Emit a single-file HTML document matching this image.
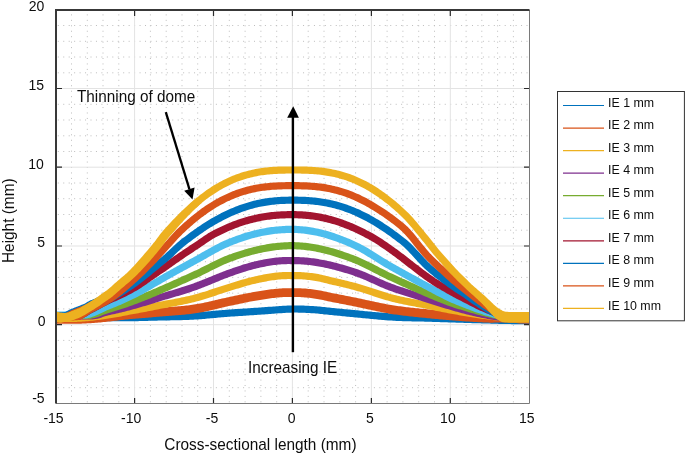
<!DOCTYPE html><html><head><meta charset="utf-8"><style>html,body{margin:0;padding:0;background:#fff;}svg{display:block;will-change:transform;}text{font-family:"Liberation Sans",sans-serif;fill:#0d0d0d;}</style></head><body>
<svg width="685" height="455" viewBox="0 0 685 455">
<rect width="685" height="455" fill="#fff"/>
<path d="M71.5,14.4 V403 M87.3,14.4 V403 M103.0,14.4 V403 M118.8,14.4 V403 M150.4,14.4 V403 M166.2,14.4 V403 M182.0,14.4 V403 M197.7,14.4 V403 M229.3,14.4 V403 M245.1,14.4 V403 M260.9,14.4 V403 M276.7,14.4 V403 M308.2,14.4 V403 M324.0,14.4 V403 M339.8,14.4 V403 M355.6,14.4 V403 M387.1,14.4 V403 M402.9,14.4 V403 M418.7,14.4 V403 M434.5,14.4 V403 M466.1,14.4 V403 M481.8,14.4 V403 M497.6,14.4 V403 M513.4,14.4 V403 M57.8,387.7 H529 M57.8,371.9 H529 M57.8,356.2 H529 M57.8,340.4 H529 M57.8,308.9 H529 M57.8,293.2 H529 M57.8,277.4 H529 M57.8,261.7 H529 M57.8,230.2 H529 M57.8,214.5 H529 M57.8,198.7 H529 M57.8,183.0 H529 M57.8,151.5 H529 M57.8,135.8 H529 M57.8,120.0 H529 M57.8,104.3 H529 M57.8,72.8 H529 M57.8,57.0 H529 M57.8,41.3 H529 M57.8,25.5 H529" stroke="#bdbdbd" stroke-width="1" stroke-dasharray="1 4.45" fill="none"/>
<path d="M134.6,11 V403 M213.5,11 V403 M292.4,11 V403 M371.4,11 V403 M450.3,11 V403 M57,88.5 H529 M57,167.2 H529 M57,246.0 H529 M57,324.7 H529" stroke="#e3e3e3" stroke-width="1" fill="none"/>
<defs><clipPath id="ax"><rect x="56" y="10" width="473.5" height="393.5"/></clipPath></defs>
<g clip-path="url(#ax)" fill="none" stroke-linejoin="round">
<path d="M49.39,318.00 L50.97,318.00 L52.54,318.00 L54.12,318.00 L55.70,318.00 L57.28,318.00 L58.86,318.00 L60.43,318.00 L62.01,318.00 L63.59,318.00 L65.17,318.00 L66.75,318.00 L68.33,318.00 L69.90,318.00 L71.48,318.00 L73.06,318.00 L74.64,318.00 L76.22,318.00 L77.80,318.00 L79.37,317.99 L80.95,317.98 L82.53,317.97 L84.11,317.95 L85.69,317.93 L87.27,317.91 L88.84,317.89 L90.42,317.86 L92.00,317.83 L93.58,317.80 L95.16,317.77 L96.74,317.73 L98.31,317.70 L99.89,317.66 L101.47,317.67 L103.05,317.68 L104.63,317.69 L106.21,317.70 L107.78,317.70 L109.36,317.70 L110.94,317.69 L112.52,317.68 L114.10,317.66 L115.68,317.65 L117.25,317.64 L118.83,317.62 L120.41,317.61 L121.99,317.61 L123.57,317.62 L125.15,317.63 L126.72,317.66 L128.30,317.69 L129.88,317.73 L131.46,317.70 L133.04,317.66 L134.62,317.62 L136.19,317.58 L137.77,317.54 L139.35,317.50 L140.93,317.46 L142.51,317.42 L144.08,317.38 L145.66,317.34 L147.24,317.30 L148.82,317.26 L150.40,317.22 L151.98,317.18 L153.55,317.14 L155.13,317.09 L156.71,317.05 L158.29,317.01 L159.87,316.97 L161.45,316.94 L163.02,316.90 L164.60,316.87 L166.18,316.85 L167.76,316.82 L169.34,316.79 L170.92,316.76 L172.49,316.73 L174.07,316.71 L175.65,316.67 L177.23,316.64 L178.81,316.61 L180.39,316.57 L181.96,316.52 L183.54,316.48 L185.12,316.43 L186.70,316.37 L188.28,316.31 L189.86,316.24 L191.43,316.17 L193.01,316.09 L194.59,316.00 L196.17,315.90 L197.75,315.79 L199.33,315.68 L200.90,315.56 L202.48,315.43 L204.06,315.30 L205.64,315.17 L207.22,315.03 L208.80,314.88 L210.37,314.74 L211.95,314.59 L213.53,314.44 L215.11,314.30 L216.69,314.15 L218.26,314.01 L219.84,313.87 L221.42,313.73 L223.00,313.60 L224.58,313.47 L226.16,313.35 L227.73,313.23 L229.31,313.13 L230.89,313.02 L232.47,312.92 L234.05,312.81 L235.63,312.71 L237.20,312.61 L238.78,312.50 L240.36,312.40 L241.94,312.29 L243.52,312.19 L245.10,312.08 L246.67,311.98 L248.25,311.88 L249.83,311.77 L251.41,311.67 L252.99,311.57 L254.57,311.46 L256.14,311.36 L257.72,311.25 L259.30,311.15 L260.88,311.03 L262.46,310.92 L264.04,310.81 L265.61,310.69 L267.19,310.57 L268.77,310.46 L270.35,310.34 L271.93,310.22 L273.51,310.11 L275.08,309.99 L276.66,309.88 L278.24,309.77 L279.82,309.66 L281.40,309.56 L282.98,309.46 L284.55,309.37 L286.13,309.28 L287.71,309.20 L289.29,309.12 L290.87,309.05 L292.45,308.98 L294.02,308.98 L295.60,308.98 L297.18,309.00 L298.76,309.03 L300.34,309.07 L301.91,309.11 L303.49,309.17 L305.07,309.23 L306.65,309.30 L308.23,309.38 L309.81,309.47 L311.38,309.56 L312.96,309.66 L314.54,309.77 L316.12,309.88 L317.70,310.00 L319.28,310.14 L320.85,310.30 L322.43,310.47 L324.01,310.64 L325.59,310.82 L327.17,311.00 L328.75,311.18 L330.32,311.35 L331.90,311.52 L333.48,311.67 L335.06,311.83 L336.64,311.98 L338.22,312.14 L339.79,312.29 L341.37,312.44 L342.95,312.59 L344.53,312.75 L346.11,312.90 L347.69,313.05 L349.26,313.20 L350.84,313.35 L352.42,313.50 L354.00,313.65 L355.58,313.80 L357.16,313.95 L358.73,314.10 L360.31,314.25 L361.89,314.40 L363.47,314.56 L365.05,314.71 L366.63,314.86 L368.20,315.01 L369.78,315.17 L371.36,315.32 L372.94,315.47 L374.52,315.61 L376.09,315.76 L377.67,315.90 L379.25,316.04 L380.83,316.18 L382.41,316.31 L383.99,316.44 L385.56,316.57 L387.14,316.69 L388.72,316.81 L390.30,316.92 L391.88,317.03 L393.46,317.12 L395.03,317.21 L396.61,317.29 L398.19,317.36 L399.77,317.43 L401.35,317.49 L402.93,317.54 L404.50,317.59 L406.08,317.63 L407.66,317.67 L409.24,317.71 L410.82,317.74 L412.40,317.78 L413.97,317.81 L415.55,317.84 L417.13,317.87 L418.71,317.90 L420.29,317.94 L421.87,317.97 L423.44,318.01 L425.02,318.05 L426.60,318.10 L428.18,318.15 L429.76,318.20 L431.34,318.26 L432.91,318.31 L434.49,318.37 L436.07,318.42 L437.65,318.47 L439.23,318.52 L440.81,318.57 L442.38,318.62 L443.96,318.67 L445.54,318.72 L447.12,318.77 L448.70,318.81 L450.28,318.86 L451.85,318.91 L453.43,318.95 L455.01,319.00 L456.59,319.04 L458.17,319.09 L459.74,319.14 L461.32,319.19 L462.90,319.24 L464.48,319.28 L466.06,319.33 L467.64,319.38 L469.21,319.44 L470.79,319.49 L472.37,319.54 L473.95,319.59 L475.53,319.63 L477.11,319.68 L478.68,319.72 L480.26,319.77 L481.84,319.81 L483.42,319.85 L485.00,319.89 L486.58,319.92 L488.15,319.96 L489.73,319.99 L491.31,320.03 L492.89,320.08 L494.47,320.13 L496.05,320.19 L497.62,320.24 L499.20,320.30 L500.78,320.35 L502.36,320.40 L503.94,320.43 L505.52,320.46 L507.09,320.48 L508.67,320.50 L510.25,320.51 L511.83,320.53 L513.41,320.54 L514.99,320.56 L516.56,320.57 L518.14,320.58 L519.72,320.59 L521.30,320.60 L522.88,320.60 L524.46,320.61 L526.03,320.62 L527.61,320.62 L529.19,320.63 L530.77,320.63 L532.35,320.63 L533.92,320.62" stroke="#0072BD" stroke-width="7.2"/>
<path d="M49.39,319.30 L50.97,319.30 L52.54,319.30 L54.12,319.30 L55.70,319.30 L57.28,319.30 L58.86,319.30 L60.43,319.30 L62.01,319.30 L63.59,319.30 L65.17,319.30 L66.75,319.30 L68.33,319.30 L69.90,319.30 L71.48,319.30 L73.06,319.30 L74.64,319.30 L76.22,319.30 L77.80,319.29 L79.37,319.27 L80.95,319.23 L82.53,319.18 L84.11,319.11 L85.69,319.04 L87.27,318.96 L88.84,318.87 L90.42,318.77 L92.00,318.66 L93.58,318.55 L95.16,318.44 L96.74,318.32 L98.31,318.20 L99.89,318.07 L101.47,317.90 L103.05,317.72 L104.63,317.55 L106.21,317.38 L107.78,317.20 L109.36,317.03 L110.94,316.84 L112.52,316.66 L114.10,316.47 L115.68,316.28 L117.25,316.09 L118.83,315.90 L120.41,315.72 L121.99,315.53 L123.57,315.36 L125.15,315.19 L126.72,315.03 L128.30,314.87 L129.88,314.72 L131.46,314.60 L133.04,314.47 L134.62,314.34 L136.19,314.21 L137.77,314.08 L139.35,313.95 L140.93,313.82 L142.51,313.69 L144.08,313.55 L145.66,313.42 L147.24,313.28 L148.82,313.14 L150.40,313.00 L151.98,312.86 L153.55,312.72 L155.13,312.57 L156.71,312.43 L158.29,312.29 L159.87,312.16 L161.45,312.03 L163.02,311.91 L164.60,311.79 L166.18,311.67 L167.76,311.55 L169.34,311.44 L170.92,311.32 L172.49,311.20 L174.07,311.08 L175.65,310.96 L177.23,310.83 L178.81,310.70 L180.39,310.57 L181.96,310.42 L183.54,310.27 L185.12,310.12 L186.70,309.95 L188.28,309.77 L189.86,309.59 L191.43,309.39 L193.01,309.18 L194.59,308.96 L196.17,308.72 L197.75,308.46 L199.33,308.18 L200.90,307.89 L202.48,307.58 L204.06,307.26 L205.64,306.92 L207.22,306.58 L208.80,306.23 L210.37,305.87 L211.95,305.50 L213.53,305.13 L215.11,304.75 L216.69,304.38 L218.26,304.00 L219.84,303.63 L221.42,303.26 L223.00,302.89 L224.58,302.53 L226.16,302.18 L227.73,301.83 L229.31,301.50 L230.89,301.17 L232.47,300.84 L234.05,300.50 L235.63,300.17 L237.20,299.83 L238.78,299.50 L240.36,299.16 L241.94,298.83 L243.52,298.50 L245.10,298.18 L246.67,297.86 L248.25,297.55 L249.83,297.25 L251.41,296.95 L252.99,296.66 L254.57,296.39 L256.14,296.12 L257.72,295.86 L259.30,295.60 L260.88,295.34 L262.46,295.09 L264.04,294.84 L265.61,294.60 L267.19,294.37 L268.77,294.15 L270.35,293.93 L271.93,293.73 L273.51,293.54 L275.08,293.36 L276.66,293.20 L278.24,293.05 L279.82,292.91 L281.40,292.80 L282.98,292.70 L284.55,292.63 L286.13,292.57 L287.71,292.54 L289.29,292.53 L290.87,292.54 L292.45,292.58 L294.02,292.56 L295.60,292.56 L297.18,292.58 L298.76,292.62 L300.34,292.68 L301.91,292.77 L303.49,292.87 L305.07,292.99 L306.65,293.14 L308.23,293.29 L309.81,293.47 L311.38,293.65 L312.96,293.85 L314.54,294.07 L316.12,294.29 L317.70,294.54 L319.28,294.82 L320.85,295.13 L322.43,295.45 L324.01,295.80 L325.59,296.14 L327.17,296.49 L328.75,296.84 L330.32,297.18 L331.90,297.50 L333.48,297.81 L335.06,298.12 L336.64,298.43 L338.22,298.74 L339.79,299.04 L341.37,299.35 L342.95,299.66 L344.53,299.97 L346.11,300.27 L347.69,300.58 L349.26,300.89 L350.84,301.21 L352.42,301.52 L354.00,301.84 L355.58,302.16 L357.16,302.49 L358.73,302.82 L360.31,303.15 L361.89,303.49 L363.47,303.83 L365.05,304.18 L366.63,304.52 L368.20,304.87 L369.78,305.21 L371.36,305.55 L372.94,305.89 L374.52,306.23 L376.09,306.57 L377.67,306.90 L379.25,307.22 L380.83,307.54 L382.41,307.86 L383.99,308.16 L385.56,308.46 L387.14,308.75 L388.72,309.03 L390.30,309.30 L391.88,309.55 L393.46,309.80 L395.03,310.04 L396.61,310.27 L398.19,310.49 L399.77,310.71 L401.35,310.92 L402.93,311.12 L404.50,311.31 L406.08,311.50 L407.66,311.68 L409.24,311.86 L410.82,312.03 L412.40,312.20 L413.97,312.37 L415.55,312.53 L417.13,312.69 L418.71,312.85 L420.29,313.01 L421.87,313.17 L423.44,313.32 L425.02,313.48 L426.60,313.64 L428.18,313.80 L429.76,313.96 L431.34,314.12 L432.91,314.28 L434.49,314.43 L436.07,314.59 L437.65,314.74 L439.23,314.89 L440.81,315.03 L442.38,315.18 L443.96,315.32 L445.54,315.46 L447.12,315.59 L448.70,315.73 L450.28,315.86 L451.85,315.98 L453.43,316.11 L455.01,316.23 L456.59,316.35 L458.17,316.47 L459.74,316.59 L461.32,316.70 L462.90,316.81 L464.48,316.91 L466.06,317.02 L467.64,317.12 L469.21,317.22 L470.79,317.31 L472.37,317.41 L473.95,317.51 L475.53,317.60 L477.11,317.69 L478.68,317.78 L480.26,317.86 L481.84,317.94 L483.42,318.02 L485.00,318.08 L486.58,318.15 L488.15,318.20 L489.73,318.24 L491.31,318.27 L492.89,318.26 L494.47,318.22 L496.05,318.18 L497.62,318.12 L499.20,318.07 L500.78,318.03 L502.36,318.01 L503.94,318.02 L505.52,318.07 L507.09,318.13 L508.67,318.19 L510.25,318.25 L511.83,318.31 L513.41,318.36 L514.99,318.41 L516.56,318.46 L518.14,318.51 L519.72,318.55 L521.30,318.59 L522.88,318.63 L524.46,318.66 L526.03,318.69 L527.61,318.72 L529.19,318.75 L530.77,318.78 L532.35,318.81 L533.92,318.85" stroke="#D95319" stroke-width="8.8"/>
<path d="M49.39,318.50 L50.97,318.50 L52.54,318.50 L54.12,318.50 L55.70,318.50 L57.28,318.50 L58.86,318.49 L60.43,318.49 L62.01,318.48 L63.59,318.47 L65.17,318.45 L66.75,318.43 L68.33,318.42 L69.90,318.40 L71.48,318.37 L73.06,318.35 L74.64,318.32 L76.22,318.30 L77.80,318.25 L79.37,318.19 L80.95,318.11 L82.53,318.01 L84.11,317.89 L85.69,317.76 L87.27,317.61 L88.84,317.45 L90.42,317.28 L92.00,317.11 L93.58,316.92 L95.16,316.73 L96.74,316.54 L98.31,316.34 L99.89,316.14 L101.47,315.92 L103.05,315.69 L104.63,315.46 L106.21,315.24 L107.78,315.01 L109.36,314.77 L110.94,314.52 L112.52,314.26 L114.10,314.00 L115.68,313.72 L117.25,313.44 L118.83,313.16 L120.41,312.86 L121.99,312.56 L123.57,312.26 L125.15,311.95 L126.72,311.64 L128.30,311.32 L129.88,310.99 L131.46,310.71 L133.04,310.44 L134.62,310.16 L136.19,309.87 L137.77,309.59 L139.35,309.30 L140.93,309.01 L142.51,308.71 L144.08,308.41 L145.66,308.11 L147.24,307.81 L148.82,307.50 L150.40,307.19 L151.98,306.88 L153.55,306.56 L155.13,306.24 L156.71,305.92 L158.29,305.61 L159.87,305.30 L161.45,305.00 L163.02,304.71 L164.60,304.41 L166.18,304.12 L167.76,303.83 L169.34,303.54 L170.92,303.25 L172.49,302.96 L174.07,302.67 L175.65,302.37 L177.23,302.07 L178.81,301.77 L180.39,301.46 L181.96,301.14 L183.54,300.82 L185.12,300.48 L186.70,300.14 L188.28,299.79 L189.86,299.43 L191.43,299.05 L193.01,298.67 L194.59,298.27 L196.17,297.85 L197.75,297.42 L199.33,296.98 L200.90,296.52 L202.48,296.04 L204.06,295.56 L205.64,295.07 L207.22,294.57 L208.80,294.06 L210.37,293.54 L211.95,293.02 L213.53,292.50 L215.11,291.97 L216.69,291.45 L218.26,290.92 L219.84,290.40 L221.42,289.88 L223.00,289.36 L224.58,288.85 L226.16,288.35 L227.73,287.85 L229.31,287.37 L230.89,286.89 L232.47,286.40 L234.05,285.91 L235.63,285.43 L237.20,284.94 L238.78,284.46 L240.36,283.98 L241.94,283.51 L243.52,283.05 L245.10,282.59 L246.67,282.15 L248.25,281.72 L249.83,281.30 L251.41,280.89 L252.99,280.51 L254.57,280.14 L256.14,279.79 L257.72,279.44 L259.30,279.10 L260.88,278.78 L262.46,278.46 L264.04,278.15 L265.61,277.85 L267.19,277.57 L268.77,277.30 L270.35,277.05 L271.93,276.81 L273.51,276.59 L275.08,276.38 L276.66,276.20 L278.24,276.03 L279.82,275.88 L281.40,275.76 L282.98,275.66 L284.55,275.58 L286.13,275.53 L287.71,275.50 L289.29,275.50 L290.87,275.53 L292.45,275.58 L294.02,275.55 L295.60,275.55 L297.18,275.57 L298.76,275.61 L300.34,275.68 L301.91,275.77 L303.49,275.87 L305.07,276.00 L306.65,276.15 L308.23,276.31 L309.81,276.49 L311.38,276.69 L312.96,276.90 L314.54,277.13 L316.12,277.38 L317.70,277.65 L319.28,277.96 L320.85,278.30 L322.43,278.67 L324.01,279.06 L325.59,279.46 L327.17,279.86 L328.75,280.26 L330.32,280.65 L331.90,281.02 L333.48,281.37 L335.06,281.73 L336.64,282.10 L338.22,282.46 L339.79,282.83 L341.37,283.20 L342.95,283.57 L344.53,283.95 L346.11,284.33 L347.69,284.72 L349.26,285.12 L350.84,285.52 L352.42,285.94 L354.00,286.35 L355.58,286.78 L357.16,287.22 L358.73,287.68 L360.31,288.15 L361.89,288.63 L363.47,289.12 L365.05,289.62 L366.63,290.13 L368.20,290.64 L369.78,291.16 L371.36,291.68 L372.94,292.20 L374.52,292.73 L376.09,293.25 L377.67,293.76 L379.25,294.27 L380.83,294.78 L382.41,295.28 L383.99,295.77 L385.56,296.24 L387.14,296.71 L388.72,297.16 L390.30,297.60 L391.88,298.02 L393.46,298.42 L395.03,298.81 L396.61,299.19 L398.19,299.56 L399.77,299.92 L401.35,300.26 L402.93,300.60 L404.50,300.93 L406.08,301.25 L407.66,301.57 L409.24,301.88 L410.82,302.18 L412.40,302.48 L413.97,302.78 L415.55,303.08 L417.13,303.38 L418.71,303.68 L420.29,303.98 L421.87,304.28 L423.44,304.58 L425.02,304.89 L426.60,305.20 L428.18,305.52 L429.76,305.85 L431.34,306.18 L432.91,306.50 L434.49,306.83 L436.07,307.15 L437.65,307.46 L439.23,307.78 L440.81,308.09 L442.38,308.40 L443.96,308.71 L445.54,309.01 L447.12,309.31 L448.70,309.61 L450.28,309.90 L451.85,310.20 L453.43,310.49 L455.01,310.77 L456.59,311.05 L458.17,311.33 L459.74,311.61 L461.32,311.89 L462.90,312.16 L464.48,312.43 L466.06,312.69 L467.64,312.95 L469.21,313.21 L470.79,313.47 L472.37,313.72 L473.95,313.96 L475.53,314.20 L477.11,314.43 L478.68,314.66 L480.26,314.89 L481.84,315.11 L483.42,315.32 L485.00,315.53 L486.58,315.74 L488.15,315.94 L489.73,316.14 L491.31,316.34 L492.89,316.53 L494.47,316.71 L496.05,316.90 L497.62,317.08 L499.20,317.26 L500.78,317.43 L502.36,317.59 L503.94,317.75 L505.52,317.90 L507.09,318.05 L508.67,318.19 L510.25,318.32 L511.83,318.45 L513.41,318.57 L514.99,318.69 L516.56,318.80 L518.14,318.90 L519.72,319.00 L521.30,319.09 L522.88,319.18 L524.46,319.26 L526.03,319.34 L527.61,319.40 L529.19,319.47 L530.77,319.53 L532.35,319.58 L533.92,319.63" stroke="#EDB120" stroke-width="7.2"/>
<path d="M49.39,316.00 L50.97,316.00 L52.54,316.00 L54.12,316.00 L55.70,316.00 L57.28,316.00 L58.86,316.00 L60.43,316.00 L62.01,316.00 L63.59,316.00 L65.17,316.00 L66.75,316.00 L68.33,316.00 L69.90,316.00 L71.48,316.00 L73.06,316.00 L74.64,316.00 L76.22,316.00 L77.80,316.00 L79.37,316.00 L80.95,316.00 L82.53,316.00 L84.11,316.00 L85.69,316.00 L87.27,316.00 L88.84,315.99 L90.42,315.94 L92.00,315.85 L93.58,315.69 L95.16,315.50 L96.74,315.26 L98.31,314.85 L99.89,314.32 L101.47,313.74 L103.05,313.16 L104.63,312.65 L106.21,312.22 L107.78,311.84 L109.36,311.46 L110.94,311.09 L112.52,310.73 L114.10,310.37 L115.68,310.01 L117.25,309.64 L118.83,309.28 L120.41,308.91 L121.99,308.54 L123.57,308.15 L125.15,307.76 L126.72,307.36 L128.30,306.93 L129.88,306.49 L131.46,306.06 L133.04,305.62 L134.62,305.18 L136.19,304.73 L137.77,304.28 L139.35,303.83 L140.93,303.37 L142.51,302.90 L144.08,302.43 L145.66,301.96 L147.24,301.49 L148.82,301.01 L150.40,300.52 L151.98,300.03 L153.55,299.54 L155.13,299.05 L156.71,298.55 L158.29,298.07 L159.87,297.59 L161.45,297.11 L163.02,296.64 L164.60,296.17 L166.18,295.70 L167.76,295.24 L169.34,294.77 L170.92,294.31 L172.49,293.84 L174.07,293.38 L175.65,292.91 L177.23,292.44 L178.81,291.96 L180.39,291.48 L181.96,290.99 L183.54,290.50 L185.12,290.00 L186.70,289.50 L188.28,288.98 L189.86,288.46 L191.43,287.93 L193.01,287.38 L194.59,286.83 L196.17,286.26 L197.75,285.67 L199.33,285.07 L200.90,284.46 L202.48,283.84 L204.06,283.21 L205.64,282.58 L207.22,281.93 L208.80,281.29 L210.37,280.64 L211.95,279.99 L213.53,279.33 L215.11,278.68 L216.69,278.04 L218.26,277.39 L219.84,276.76 L221.42,276.13 L223.00,275.51 L224.58,274.90 L226.16,274.30 L227.73,273.71 L229.31,273.15 L230.89,272.58 L232.47,272.03 L234.05,271.47 L235.63,270.93 L237.20,270.38 L238.78,269.85 L240.36,269.32 L241.94,268.81 L243.52,268.30 L245.10,267.81 L246.67,267.33 L248.25,266.87 L249.83,266.42 L251.41,265.99 L252.99,265.58 L254.57,265.19 L256.14,264.81 L257.72,264.44 L259.30,264.09 L260.88,263.75 L262.46,263.42 L264.04,263.11 L265.61,262.81 L267.19,262.52 L268.77,262.25 L270.35,262.00 L271.93,261.77 L273.51,261.55 L275.08,261.35 L276.66,261.17 L278.24,261.01 L279.82,260.87 L281.40,260.75 L282.98,260.66 L284.55,260.58 L286.13,260.53 L287.71,260.51 L289.29,260.51 L290.87,260.53 L292.45,260.58 L294.02,260.57 L295.60,260.58 L297.18,260.61 L298.76,260.66 L300.34,260.73 L301.91,260.82 L303.49,260.93 L305.07,261.05 L306.65,261.20 L308.23,261.36 L309.81,261.54 L311.38,261.73 L312.96,261.94 L314.54,262.17 L316.12,262.41 L317.70,262.66 L319.28,262.93 L320.85,263.22 L322.43,263.52 L324.01,263.83 L325.59,264.15 L327.17,264.49 L328.75,264.84 L330.32,265.20 L331.90,265.57 L333.48,265.96 L335.06,266.36 L336.64,266.77 L338.22,267.19 L339.79,267.62 L341.37,268.06 L342.95,268.51 L344.53,268.97 L346.11,269.44 L347.69,269.93 L349.26,270.42 L350.84,270.92 L352.42,271.43 L354.00,271.95 L355.58,272.47 L357.16,273.02 L358.73,273.59 L360.31,274.19 L361.89,274.81 L363.47,275.45 L365.05,276.11 L366.63,276.79 L368.20,277.48 L369.78,278.18 L371.36,278.88 L372.94,279.60 L374.52,280.31 L376.09,281.03 L377.67,281.74 L379.25,282.45 L380.83,283.15 L382.41,283.84 L383.99,284.52 L385.56,285.19 L387.14,285.83 L388.72,286.46 L390.30,287.07 L391.88,287.65 L393.46,288.22 L395.03,288.78 L396.61,289.33 L398.19,289.87 L399.77,290.39 L401.35,290.91 L402.93,291.42 L404.50,291.92 L406.08,292.42 L407.66,292.91 L409.24,293.40 L410.82,293.88 L412.40,294.36 L413.97,294.84 L415.55,295.31 L417.13,295.79 L418.71,296.27 L420.29,296.75 L421.87,297.23 L423.44,297.72 L425.02,298.21 L426.60,298.71 L428.18,299.21 L429.76,299.73 L431.34,300.24 L432.91,300.75 L434.49,301.26 L436.07,301.77 L437.65,302.27 L439.23,302.77 L440.81,303.26 L442.38,303.75 L443.96,304.23 L445.54,304.72 L447.12,305.19 L448.70,305.66 L450.28,306.13 L451.85,306.59 L453.43,307.05 L455.01,307.50 L456.59,307.95 L458.17,308.39 L459.74,308.82 L461.32,309.25 L462.90,309.67 L464.48,310.08 L466.06,310.49 L467.64,310.89 L469.21,311.29 L470.79,311.68 L472.37,312.05 L473.95,312.42 L475.53,312.79 L477.11,313.14 L478.68,313.48 L480.26,313.82 L481.84,314.14 L483.42,314.46 L485.00,314.77 L486.58,315.07 L488.15,315.37 L489.73,315.65 L491.31,315.93 L492.89,316.20 L494.47,316.46 L496.05,316.72 L497.62,316.96 L499.20,317.20 L500.78,317.43 L502.36,317.64 L503.94,317.85 L505.52,318.05 L507.09,318.23 L508.67,318.41 L510.25,318.57 L511.83,318.72 L513.41,318.86 L514.99,318.99 L516.56,319.12 L518.14,319.23 L519.72,319.33 L521.30,319.42 L522.88,319.50 L524.46,319.57 L526.03,319.64 L527.61,319.69 L529.19,319.74 L530.77,319.78 L532.35,319.82 L533.92,319.84" stroke="#7E2F8E" stroke-width="7.2"/>
<path d="M49.39,315.50 L50.97,315.50 L52.54,315.50 L54.12,315.50 L55.70,315.50 L57.28,315.50 L58.86,315.50 L60.43,315.50 L62.01,315.50 L63.59,315.50 L65.17,315.50 L66.75,315.50 L68.33,315.50 L69.90,315.50 L71.48,315.50 L73.06,315.50 L74.64,315.50 L76.22,315.50 L77.80,315.50 L79.37,315.50 L80.95,315.50 L82.53,315.50 L84.11,315.50 L85.69,315.50 L87.27,315.46 L88.84,315.33 L90.42,315.11 L92.00,314.82 L93.58,314.49 L95.16,314.11 L96.74,313.61 L98.31,313.02 L99.89,312.38 L101.47,311.74 L103.05,311.12 L104.63,310.55 L106.21,310.04 L107.78,309.55 L109.36,309.07 L110.94,308.59 L112.52,308.12 L114.10,307.64 L115.68,307.16 L117.25,306.67 L118.83,306.17 L120.41,305.67 L121.99,305.16 L123.57,304.63 L125.15,304.10 L126.72,303.55 L128.30,302.98 L129.88,302.39 L131.46,301.82 L133.04,301.24 L134.62,300.65 L136.19,300.05 L137.77,299.45 L139.35,298.85 L140.93,298.23 L142.51,297.61 L144.08,296.99 L145.66,296.35 L147.24,295.71 L148.82,295.07 L150.40,294.41 L151.98,293.75 L153.55,293.08 L155.13,292.40 L156.71,291.72 L158.29,291.04 L159.87,290.35 L161.45,289.67 L163.02,288.98 L164.60,288.28 L166.18,287.59 L167.76,286.90 L169.34,286.20 L170.92,285.50 L172.49,284.80 L174.07,284.10 L175.65,283.39 L177.23,282.69 L178.81,281.98 L180.39,281.28 L181.96,280.57 L183.54,279.86 L185.12,279.15 L186.70,278.43 L188.28,277.72 L189.86,277.01 L191.43,276.29 L193.01,275.58 L194.59,274.86 L196.17,274.14 L197.75,273.40 L199.33,272.64 L200.90,271.87 L202.48,271.09 L204.06,270.30 L205.64,269.50 L207.22,268.70 L208.80,267.90 L210.37,267.10 L211.95,266.31 L213.53,265.52 L215.11,264.73 L216.69,263.96 L218.26,263.21 L219.84,262.46 L221.42,261.74 L223.00,261.03 L224.58,260.35 L226.16,259.69 L227.73,259.06 L229.31,258.46 L230.89,257.88 L232.47,257.30 L234.05,256.74 L235.63,256.20 L237.20,255.66 L238.78,255.13 L240.36,254.62 L241.94,254.12 L243.52,253.63 L245.10,253.15 L246.67,252.68 L248.25,252.23 L249.83,251.79 L251.41,251.37 L252.99,250.96 L254.57,250.56 L256.14,250.17 L257.72,249.80 L259.30,249.45 L260.88,249.11 L262.46,248.78 L264.04,248.47 L265.61,248.17 L267.19,247.89 L268.77,247.63 L270.35,247.38 L271.93,247.15 L273.51,246.93 L275.08,246.73 L276.66,246.54 L278.24,246.37 L279.82,246.22 L281.40,246.09 L282.98,245.98 L284.55,245.88 L286.13,245.80 L287.71,245.74 L289.29,245.70 L290.87,245.68 L292.45,245.68 L294.02,245.70 L295.60,245.74 L297.18,245.80 L298.76,245.89 L300.34,245.99 L301.91,246.11 L303.49,246.26 L305.07,246.42 L306.65,246.60 L308.23,246.81 L309.81,247.02 L311.38,247.26 L312.96,247.52 L314.54,247.79 L316.12,248.08 L317.70,248.39 L319.28,248.71 L320.85,249.05 L322.43,249.40 L324.01,249.77 L325.59,250.16 L327.17,250.56 L328.75,250.97 L330.32,251.40 L331.90,251.84 L333.48,252.30 L335.06,252.77 L336.64,253.25 L338.22,253.75 L339.79,254.25 L341.37,254.77 L342.95,255.31 L344.53,255.85 L346.11,256.40 L347.69,256.97 L349.26,257.55 L350.84,258.14 L352.42,258.73 L354.00,259.34 L355.58,259.96 L357.16,260.60 L358.73,261.26 L360.31,261.95 L361.89,262.67 L363.47,263.41 L365.05,264.16 L366.63,264.93 L368.20,265.72 L369.78,266.51 L371.36,267.32 L372.94,268.14 L374.52,268.95 L376.09,269.77 L377.67,270.60 L379.25,271.41 L380.83,272.23 L382.41,273.03 L383.99,273.83 L385.56,274.61 L387.14,275.39 L388.72,276.14 L390.30,276.87 L391.88,277.60 L393.46,278.32 L395.03,279.05 L396.61,279.77 L398.19,280.49 L399.77,281.21 L401.35,281.92 L402.93,282.64 L404.50,283.35 L406.08,284.06 L407.66,284.77 L409.24,285.48 L410.82,286.19 L412.40,286.89 L413.97,287.59 L415.55,288.29 L417.13,288.99 L418.71,289.68 L420.29,290.37 L421.87,291.06 L423.44,291.75 L425.02,292.43 L426.60,293.11 L428.18,293.78 L429.76,294.45 L431.34,295.12 L432.91,295.79 L434.49,296.44 L436.07,297.09 L437.65,297.74 L439.23,298.38 L440.81,299.01 L442.38,299.63 L443.96,300.24 L445.54,300.85 L447.12,301.45 L448.70,302.03 L450.28,302.61 L451.85,303.17 L453.43,303.71 L455.01,304.23 L456.59,304.73 L458.17,305.22 L459.74,305.70 L461.32,306.17 L462.90,306.64 L464.48,307.10 L466.06,307.57 L467.64,308.04 L469.21,308.51 L470.79,308.98 L472.37,309.45 L473.95,309.90 L475.53,310.35 L477.11,310.79 L478.68,311.21 L480.26,311.63 L481.84,312.04 L483.42,312.44 L485.00,312.83 L486.58,313.22 L488.15,313.59 L489.73,313.96 L491.31,314.32 L492.89,314.67 L494.47,315.01 L496.05,315.35 L497.62,315.67 L499.20,315.99 L500.78,316.30 L502.36,316.59 L503.94,316.87 L505.52,317.14 L507.09,317.39 L508.67,317.63 L510.25,317.86 L511.83,318.08 L513.41,318.29 L514.99,318.48 L516.56,318.66 L518.14,318.82 L519.72,318.97 L521.30,319.11 L522.88,319.24 L524.46,319.36 L526.03,319.46 L527.61,319.55 L529.19,319.63 L530.77,319.70 L532.35,319.75 L533.92,319.80" stroke="#77AC30" stroke-width="7.2"/>
<path d="M49.39,315.00 L50.97,315.00 L52.54,315.00 L54.12,315.00 L55.70,315.00 L57.28,315.00 L58.86,315.00 L60.43,315.00 L62.01,315.00 L63.59,315.00 L65.17,315.00 L66.75,315.00 L68.33,315.00 L69.90,315.00 L71.48,315.00 L73.06,315.00 L74.64,315.00 L76.22,315.00 L77.80,315.00 L79.37,315.00 L80.95,315.00 L82.53,315.00 L84.11,315.00 L85.69,314.89 L87.27,314.61 L88.84,314.20 L90.42,313.70 L92.00,313.12 L93.58,312.55 L95.16,311.95 L96.74,311.26 L98.31,310.51 L99.89,309.72 L101.47,308.94 L103.05,308.18 L104.63,307.46 L106.21,306.80 L107.78,306.16 L109.36,305.53 L110.94,304.89 L112.52,304.25 L114.10,303.60 L115.68,302.95 L117.25,302.29 L118.83,301.61 L120.41,300.92 L121.99,300.23 L123.57,299.52 L125.15,298.81 L126.72,298.07 L128.30,297.31 L129.88,296.53 L131.46,295.78 L133.04,295.02 L134.62,294.24 L136.19,293.45 L137.77,292.65 L139.35,291.82 L140.93,290.97 L142.51,290.09 L144.08,289.20 L145.66,288.30 L147.24,287.40 L148.82,286.50 L150.40,285.59 L151.98,284.67 L153.55,283.76 L155.13,282.84 L156.71,281.92 L158.29,281.01 L159.87,280.10 L161.45,279.19 L163.02,278.29 L164.60,277.39 L166.18,276.49 L167.76,275.60 L169.34,274.71 L170.92,273.83 L172.49,272.94 L174.07,272.06 L175.65,271.19 L177.23,270.31 L178.81,269.44 L180.39,268.57 L181.96,267.70 L183.54,266.83 L185.12,265.97 L186.70,265.10 L188.28,264.24 L189.86,263.38 L191.43,262.52 L193.01,261.66 L194.59,260.80 L196.17,259.93 L197.75,259.06 L199.33,258.18 L200.90,257.29 L202.48,256.40 L204.06,255.50 L205.64,254.61 L207.22,253.72 L208.80,252.83 L210.37,251.95 L211.95,251.07 L213.53,250.21 L215.11,249.36 L216.69,248.52 L218.26,247.69 L219.84,246.88 L221.42,246.10 L223.00,245.33 L224.58,244.59 L226.16,243.87 L227.73,243.17 L229.31,242.51 L230.89,241.87 L232.47,241.24 L234.05,240.63 L235.63,240.03 L237.20,239.45 L238.78,238.88 L240.36,238.33 L241.94,237.79 L243.52,237.27 L245.10,236.76 L246.67,236.27 L248.25,235.80 L249.83,235.34 L251.41,234.90 L252.99,234.47 L254.57,234.06 L256.14,233.67 L257.72,233.30 L259.30,232.94 L260.88,232.60 L262.46,232.28 L264.04,231.97 L265.61,231.68 L267.19,231.41 L268.77,231.15 L270.35,230.91 L271.93,230.69 L273.51,230.49 L275.08,230.30 L276.66,230.13 L278.24,229.98 L279.82,229.84 L281.40,229.72 L282.98,229.62 L284.55,229.54 L286.13,229.47 L287.71,229.42 L289.29,229.39 L290.87,229.37 L292.45,229.38 L294.02,229.41 L295.60,229.45 L297.18,229.52 L298.76,229.61 L300.34,229.72 L301.91,229.85 L303.49,230.00 L305.07,230.18 L306.65,230.38 L308.23,230.60 L309.81,230.84 L311.38,231.10 L312.96,231.38 L314.54,231.68 L316.12,232.00 L317.70,232.34 L319.28,232.70 L320.85,233.08 L322.43,233.48 L324.01,233.89 L325.59,234.33 L327.17,234.78 L328.75,235.25 L330.32,235.74 L331.90,236.25 L333.48,236.77 L335.06,237.31 L336.64,237.86 L338.22,238.44 L339.79,239.02 L341.37,239.63 L342.95,240.25 L344.53,240.88 L346.11,241.53 L347.69,242.19 L349.26,242.87 L350.84,243.56 L352.42,244.26 L354.00,244.98 L355.58,245.71 L357.16,246.47 L358.73,247.26 L360.31,248.08 L361.89,248.94 L363.47,249.82 L365.05,250.72 L366.63,251.65 L368.20,252.59 L369.78,253.55 L371.36,254.53 L372.94,255.51 L374.52,256.50 L376.09,257.49 L377.67,258.49 L379.25,259.48 L380.83,260.47 L382.41,261.46 L383.99,262.43 L385.56,263.39 L387.14,264.33 L388.72,265.26 L390.30,266.16 L391.88,267.05 L393.46,267.94 L395.03,268.82 L396.61,269.70 L398.19,270.58 L399.77,271.46 L401.35,272.34 L402.93,273.21 L404.50,274.09 L406.08,274.96 L407.66,275.82 L409.24,276.69 L410.82,277.55 L412.40,278.42 L413.97,279.28 L415.55,280.13 L417.13,280.99 L418.71,281.84 L420.29,282.70 L421.87,283.55 L423.44,284.40 L425.02,285.24 L426.60,286.09 L428.18,286.93 L429.76,287.77 L431.34,288.61 L432.91,289.45 L434.49,290.28 L436.07,291.11 L437.65,291.93 L439.23,292.74 L440.81,293.55 L442.38,294.35 L443.96,295.14 L445.54,295.91 L447.12,296.68 L448.70,297.44 L450.28,298.18 L451.85,298.90 L453.43,299.60 L455.01,300.28 L456.59,300.94 L458.17,301.59 L459.74,302.22 L461.32,302.84 L462.90,303.46 L464.48,304.07 L466.06,304.68 L467.64,305.29 L469.21,305.90 L470.79,306.51 L472.37,307.11 L473.95,307.69 L475.53,308.26 L477.11,308.82 L478.68,309.37 L480.26,309.91 L481.84,310.43 L483.42,310.95 L485.00,311.45 L486.58,311.94 L488.15,312.41 L489.73,312.88 L491.31,313.33 L492.89,313.77 L494.47,314.20 L496.05,314.62 L497.62,315.03 L499.20,315.42 L500.78,315.79 L502.36,316.15 L503.94,316.50 L505.52,316.83 L507.09,317.14 L508.67,317.43 L510.25,317.71 L511.83,317.97 L513.41,318.21 L514.99,318.44 L516.56,318.65 L518.14,318.84 L519.72,319.02 L521.30,319.18 L522.88,319.32 L524.46,319.44 L526.03,319.55 L527.61,319.64 L529.19,319.72 L530.77,319.78 L532.35,319.83 L533.92,319.87" stroke="#4DBEEE" stroke-width="7.2"/>
<path d="M49.39,316.50 L50.97,316.50 L52.54,316.50 L54.12,316.50 L55.70,316.50 L57.28,316.50 L58.86,316.50 L60.43,316.50 L62.01,316.50 L63.59,316.50 L65.17,316.50 L66.75,316.50 L68.33,316.50 L69.90,316.50 L71.48,316.50 L73.06,316.50 L74.64,316.50 L76.22,316.50 L77.80,316.32 L79.37,315.89 L80.95,315.26 L82.53,314.47 L84.11,313.58 L85.69,312.62 L87.27,311.63 L88.84,310.68 L90.42,309.80 L92.00,309.00 L93.58,308.19 L95.16,307.36 L96.74,306.51 L98.31,305.66 L99.89,304.80 L101.47,303.94 L103.05,303.08 L104.63,302.23 L106.21,301.41 L107.78,300.69 L109.36,299.98 L110.94,299.27 L112.52,298.56 L114.10,297.85 L115.68,297.14 L117.25,296.42 L118.83,295.68 L120.41,294.94 L121.99,294.19 L123.57,293.42 L125.15,292.65 L126.72,291.85 L128.30,291.04 L129.88,290.20 L131.46,289.35 L133.04,288.46 L134.62,287.55 L136.19,286.61 L137.77,285.64 L139.35,284.63 L140.93,283.58 L142.51,282.52 L144.08,281.44 L145.66,280.35 L147.24,279.26 L148.82,278.16 L150.40,277.05 L151.98,275.95 L153.55,274.85 L155.13,273.75 L156.71,272.67 L158.29,271.61 L159.87,270.55 L161.45,269.49 L163.02,268.41 L164.60,267.31 L166.18,266.19 L167.76,265.07 L169.34,263.96 L170.92,262.84 L172.49,261.73 L174.07,260.63 L175.65,259.53 L177.23,258.43 L178.81,257.34 L180.39,256.26 L181.96,255.18 L183.54,254.11 L185.12,253.05 L186.70,251.99 L188.28,250.94 L189.86,249.90 L191.43,248.87 L193.01,247.85 L194.59,246.84 L196.17,245.81 L197.75,244.75 L199.33,243.66 L200.90,242.56 L202.48,241.45 L204.06,240.35 L205.64,239.26 L207.22,238.19 L208.80,237.16 L210.37,236.17 L211.95,235.24 L213.53,234.37 L215.11,233.55 L216.69,232.74 L218.26,231.94 L219.84,231.17 L221.42,230.41 L223.00,229.67 L224.58,228.94 L226.16,228.24 L227.73,227.55 L229.31,226.88 L230.89,226.22 L232.47,225.59 L234.05,224.97 L235.63,224.37 L237.20,223.79 L238.78,223.23 L240.36,222.69 L241.94,222.16 L243.52,221.66 L245.10,221.17 L246.67,220.70 L248.25,220.25 L249.83,219.82 L251.41,219.41 L252.99,219.01 L254.57,218.64 L256.14,218.28 L257.72,217.94 L259.30,217.62 L260.88,217.32 L262.46,217.03 L264.04,216.77 L265.61,216.52 L267.19,216.29 L268.77,216.07 L270.35,215.87 L271.93,215.69 L273.51,215.53 L275.08,215.38 L276.66,215.25 L278.24,215.13 L279.82,215.03 L281.40,214.94 L282.98,214.86 L284.55,214.80 L286.13,214.75 L287.71,214.72 L289.29,214.69 L290.87,214.68 L292.45,214.68 L294.02,214.69 L295.60,214.72 L297.18,214.75 L298.76,214.81 L300.34,214.87 L301.91,214.96 L303.49,215.06 L305.07,215.17 L306.65,215.31 L308.23,215.46 L309.81,215.63 L311.38,215.82 L312.96,216.03 L314.54,216.26 L316.12,216.50 L317.70,216.76 L319.28,217.05 L320.85,217.35 L322.43,217.67 L324.01,218.01 L325.59,218.37 L327.17,218.75 L328.75,219.15 L330.32,219.56 L331.90,220.00 L333.48,220.45 L335.06,220.93 L336.64,221.42 L338.22,221.93 L339.79,222.46 L341.37,223.01 L342.95,223.58 L344.53,224.17 L346.11,224.77 L347.69,225.39 L349.26,226.03 L350.84,226.69 L352.42,227.37 L354.00,228.06 L355.58,228.77 L357.16,229.49 L358.73,230.24 L360.31,231.00 L361.89,231.77 L363.47,232.56 L365.05,233.37 L366.63,234.19 L368.20,235.03 L369.78,235.88 L371.36,236.75 L372.94,237.64 L374.52,238.57 L376.09,239.53 L377.67,240.53 L379.25,241.55 L380.83,242.59 L382.41,243.65 L383.99,244.73 L385.56,245.82 L387.14,246.92 L388.72,248.02 L390.30,249.13 L391.88,250.24 L393.46,251.37 L395.03,252.52 L396.61,253.68 L398.19,254.85 L399.77,256.04 L401.35,257.24 L402.93,258.44 L404.50,259.65 L406.08,260.87 L407.66,262.09 L409.24,263.32 L410.82,264.54 L412.40,265.77 L413.97,266.99 L415.55,268.21 L417.13,269.42 L418.71,270.62 L420.29,271.82 L421.87,273.01 L423.44,274.18 L425.02,275.35 L426.60,276.49 L428.18,277.63 L429.76,278.74 L431.34,279.82 L432.91,280.88 L434.49,281.90 L436.07,282.89 L437.65,283.86 L439.23,284.81 L440.81,285.74 L442.38,286.66 L443.96,287.57 L445.54,288.47 L447.12,289.37 L448.70,290.27 L450.28,291.18 L451.85,292.07 L453.43,292.94 L455.01,293.80 L456.59,294.64 L458.17,295.47 L459.74,296.28 L461.32,297.10 L462.90,297.91 L464.48,298.72 L466.06,299.53 L467.64,300.34 L469.21,301.17 L470.79,301.99 L472.37,302.80 L473.95,303.60 L475.53,304.38 L477.11,305.15 L478.68,305.90 L480.26,306.63 L481.84,307.35 L483.42,308.06 L485.00,308.75 L486.58,309.42 L488.15,310.07 L489.73,310.71 L491.31,311.33 L492.89,311.93 L494.47,312.52 L496.05,313.09 L497.62,313.64 L499.20,314.17 L500.78,314.68 L502.36,315.17 L503.94,315.63 L505.52,316.07 L507.09,316.49 L508.67,316.88 L510.25,317.25 L511.83,317.60 L513.41,317.92 L514.99,318.22 L516.56,318.49 L518.14,318.74 L519.72,318.96 L521.30,319.16 L522.88,319.33 L524.46,319.48 L526.03,319.61 L527.61,319.71 L529.19,319.79 L530.77,319.85 L532.35,319.89 L533.92,319.92" stroke="#A2142F" stroke-width="7.2"/>
<path d="M50.00,316.20 L51.00,316.20 L52.00,316.20 L53.00,316.20 L54.00,316.20 L55.00,316.20 L56.00,316.20 L57.00,316.21 L58.00,316.23 L59.00,316.26 L60.00,316.30 L61.00,316.35 L62.00,316.43 L63.00,316.51 L64.00,316.60 L65.00,316.69 L66.00,316.79 L67.00,316.89 L68.00,317.00" stroke="#A2142F" stroke-width="7.2"/>
<path d="M49.39,316.00 L50.97,316.00 L52.54,316.00 L54.12,316.00 L55.70,316.00 L57.28,316.00 L58.86,316.00 L60.43,316.00 L62.01,316.00 L63.59,316.00 L65.17,316.00 L66.75,316.00 L68.33,316.00 L69.90,316.00 L71.48,316.00 L73.06,316.00 L74.64,316.00 L76.22,316.00 L77.80,315.82 L79.37,315.39 L80.95,314.76 L82.53,313.97 L84.11,313.08 L85.69,312.12 L87.27,311.13 L88.84,310.18 L90.42,309.30 L92.00,308.50 L93.58,307.70 L95.16,306.88 L96.74,306.06 L98.31,305.22 L99.89,304.37 L101.47,303.52 L103.05,302.65 L104.63,301.77 L106.21,300.89 L107.78,300.01 L109.36,299.12 L110.94,298.22 L112.52,297.31 L114.10,296.39 L115.68,295.46 L117.25,294.52 L118.83,293.57 L120.41,292.60 L121.99,291.63 L123.57,290.63 L125.15,289.62 L126.72,288.59 L128.30,287.54 L129.88,286.48 L131.46,285.41 L133.04,284.32 L134.62,283.21 L136.19,282.08 L137.77,280.91 L139.35,279.71 L140.93,278.48 L142.51,277.23 L144.08,275.95 L145.66,274.67 L147.24,273.38 L148.82,272.09 L150.40,270.80 L151.98,269.51 L153.55,268.21 L155.13,266.92 L156.71,265.62 L158.29,264.33 L159.87,263.04 L161.45,261.75 L163.02,260.46 L164.60,259.17 L166.18,257.85 L167.76,256.46 L169.34,255.01 L170.92,253.52 L172.49,252.02 L174.07,250.50 L175.65,249.00 L177.23,247.53 L178.81,246.10 L180.39,244.73 L181.96,243.43 L183.54,242.18 L185.12,240.95 L186.70,239.73 L188.28,238.52 L189.86,237.33 L191.43,236.15 L193.01,234.99 L194.59,233.85 L196.17,232.72 L197.75,231.60 L199.33,230.51 L200.90,229.43 L202.48,228.36 L204.06,227.32 L205.64,226.30 L207.22,225.29 L208.80,224.31 L210.37,223.34 L211.95,222.40 L213.53,221.47 L215.11,220.57 L216.69,219.68 L218.26,218.81 L219.84,217.96 L221.42,217.13 L223.00,216.32 L224.58,215.53 L226.16,214.76 L227.73,214.01 L229.31,213.28 L230.89,212.56 L232.47,211.87 L234.05,211.20 L235.63,210.55 L237.20,209.92 L238.78,209.31 L240.36,208.72 L241.94,208.16 L243.52,207.61 L245.10,207.08 L246.67,206.58 L248.25,206.09 L249.83,205.63 L251.41,205.18 L252.99,204.76 L254.57,204.36 L256.14,203.97 L257.72,203.61 L259.30,203.27 L260.88,202.95 L262.46,202.64 L264.04,202.36 L265.61,202.10 L267.19,201.85 L268.77,201.62 L270.35,201.42 L271.93,201.23 L273.51,201.05 L275.08,200.90 L276.66,200.76 L278.24,200.64 L279.82,200.53 L281.40,200.44 L282.98,200.37 L284.55,200.31 L286.13,200.26 L287.71,200.23 L289.29,200.20 L290.87,200.19 L292.45,200.18 L294.02,200.18 L295.60,200.19 L297.18,200.21 L298.76,200.23 L300.34,200.27 L301.91,200.31 L303.49,200.37 L305.07,200.44 L306.65,200.52 L308.23,200.62 L309.81,200.73 L311.38,200.86 L312.96,201.00 L314.54,201.16 L316.12,201.33 L317.70,201.52 L319.28,201.73 L320.85,201.96 L322.43,202.20 L324.01,202.46 L325.59,202.75 L327.17,203.05 L328.75,203.37 L330.32,203.71 L331.90,204.07 L333.48,204.45 L335.06,204.85 L336.64,205.27 L338.22,205.71 L339.79,206.17 L341.37,206.66 L342.95,207.16 L344.53,207.69 L346.11,208.24 L347.69,208.81 L349.26,209.40 L350.84,210.01 L352.42,210.64 L354.00,211.30 L355.58,211.98 L357.16,212.67 L358.73,213.39 L360.31,214.14 L361.89,214.90 L363.47,215.68 L365.05,216.49 L366.63,217.31 L368.20,218.16 L369.78,219.03 L371.36,219.91 L372.94,220.82 L374.52,221.75 L376.09,222.69 L377.67,223.66 L379.25,224.65 L380.83,225.65 L382.41,226.67 L383.99,227.72 L385.56,228.78 L387.14,229.85 L388.72,230.95 L390.30,232.06 L391.88,233.18 L393.46,234.33 L395.03,235.48 L396.61,236.66 L398.19,237.85 L399.77,239.05 L401.35,240.26 L402.93,241.49 L404.50,242.78 L406.08,244.16 L407.66,245.63 L409.24,247.17 L410.82,248.77 L412.40,250.42 L413.97,252.10 L415.55,253.81 L417.13,255.54 L418.71,257.26 L420.29,258.98 L421.87,260.67 L423.44,262.33 L425.02,263.94 L426.60,265.50 L428.18,266.98 L429.76,268.38 L431.34,269.72 L432.91,271.03 L434.49,272.31 L436.07,273.57 L437.65,274.81 L439.23,276.02 L440.81,277.22 L442.38,278.41 L443.96,279.59 L445.54,280.76 L447.12,281.92 L448.70,283.09 L450.28,284.25 L451.85,285.40 L453.43,286.50 L455.01,287.58 L456.59,288.64 L458.17,289.67 L459.74,290.70 L461.32,291.73 L462.90,292.76 L464.48,293.81 L466.06,294.87 L467.64,295.96 L469.21,297.08 L470.79,298.22 L472.37,299.34 L473.95,300.43 L475.53,301.50 L477.11,302.56 L478.68,303.59 L480.26,304.60 L481.84,305.58 L483.42,306.54 L485.00,307.47 L486.58,308.38 L488.15,309.27 L489.73,310.16 L491.31,311.05 L492.89,311.91 L494.47,312.75 L496.05,313.56 L497.62,314.34 L499.20,315.07 L500.78,315.75 L502.36,316.38 L503.94,316.91 L505.52,317.33 L507.09,317.67 L508.67,317.95 L510.25,318.20 L511.83,318.45 L513.41,318.71 L514.99,318.96 L516.56,319.19 L518.14,319.38 L519.72,319.54 L521.30,319.67 L522.88,319.76 L524.46,319.83 L526.03,319.88 L527.61,319.91 L529.19,319.93 L530.77,319.95 L532.35,319.95 L533.92,319.96" stroke="#0072BD" stroke-width="7.2"/>
<path d="M62.00,316.30 L63.00,316.18 L64.00,316.00 L65.00,315.75 L66.00,315.41 L67.00,315.01 L68.00,314.55 L69.00,314.07 L70.00,313.56 L71.00,313.06 L72.00,312.58 L73.00,312.14 L74.00,311.73 L75.00,311.33 L76.00,310.94 L77.00,310.55 L78.00,310.16 L79.00,309.77 L80.00,309.38 L81.00,308.98 L82.00,308.58 L83.00,308.18 L84.00,307.78 L85.00,307.36 L86.00,306.90 L87.00,306.38 L88.00,305.80 L89.00,305.20 L90.00,304.62 L91.00,304.10 L92.00,303.65 L93.00,303.23 L94.00,302.84 L95.00,302.44 L96.00,302.03 L97.00,301.59 L98.00,301.14 L99.00,300.67 L100.00,300.20" stroke="#0072BD" stroke-width="7.2"/>
<path d="M49.39,317.00 L50.97,317.00 L52.54,317.00 L54.12,317.00 L55.70,317.00 L57.28,317.00 L58.86,316.99 L60.43,316.99 L62.01,316.97 L63.59,316.96 L65.17,316.94 L66.75,316.91 L68.33,316.89 L69.90,316.86 L71.48,316.82 L73.06,316.78 L74.64,316.74 L76.22,316.69 L77.80,316.45 L79.37,315.96 L80.95,315.26 L82.53,314.40 L84.11,313.43 L85.69,312.39 L87.27,311.34 L88.84,310.33 L90.42,309.41 L92.00,308.59 L93.58,307.79 L95.16,307.00 L96.74,306.21 L98.31,305.42 L99.89,304.61 L101.47,303.78 L103.05,302.92 L104.63,302.02 L106.21,301.09 L107.78,300.18 L109.36,299.22 L110.94,298.20 L112.52,297.13 L114.10,296.01 L115.68,294.85 L117.25,293.65 L118.83,292.41 L120.41,291.13 L121.99,289.82 L123.57,288.48 L125.15,287.11 L126.72,285.71 L128.30,284.32 L129.88,282.93 L131.46,281.55 L133.04,280.16 L134.62,278.76 L136.19,277.35 L137.77,275.90 L139.35,274.43 L140.93,272.92 L142.51,271.36 L144.08,269.77 L145.66,268.18 L147.24,266.58 L148.82,264.97 L150.40,263.36 L151.98,261.74 L153.55,260.13 L155.13,258.50 L156.71,256.85 L158.29,255.14 L159.87,253.40 L161.45,251.65 L163.02,249.90 L164.60,248.16 L166.18,246.43 L167.76,244.67 L169.34,242.91 L170.92,241.14 L172.49,239.38 L174.07,237.64 L175.65,235.93 L177.23,234.26 L178.81,232.63 L180.39,231.06 L181.96,229.55 L183.54,228.09 L185.12,226.66 L186.70,225.24 L188.28,223.85 L189.86,222.48 L191.43,221.13 L193.01,219.80 L194.59,218.51 L196.17,217.23 L197.75,215.98 L199.33,214.76 L200.90,213.57 L202.48,212.40 L204.06,211.25 L205.64,210.14 L207.22,209.05 L208.80,207.99 L210.37,206.96 L211.95,205.96 L213.53,204.98 L215.11,204.03 L216.69,203.11 L218.26,202.22 L219.84,201.35 L221.42,200.50 L223.00,199.69 L224.58,198.90 L226.16,198.13 L227.73,197.39 L229.31,196.68 L230.89,195.99 L232.47,195.33 L234.05,194.69 L235.63,194.08 L237.20,193.50 L238.78,192.93 L240.36,192.40 L241.94,191.89 L243.52,191.40 L245.10,190.93 L246.67,190.49 L248.25,190.07 L249.83,189.68 L251.41,189.31 L252.99,188.96 L254.57,188.63 L256.14,188.32 L257.72,188.03 L259.30,187.76 L260.88,187.51 L262.46,187.28 L264.04,187.07 L265.61,186.88 L267.19,186.71 L268.77,186.55 L270.35,186.40 L271.93,186.28 L273.51,186.17 L275.08,186.07 L276.66,185.98 L278.24,185.91 L279.82,185.85 L281.40,185.80 L282.98,185.76 L284.55,185.73 L286.13,185.71 L287.71,185.69 L289.29,185.69 L290.87,185.68 L292.45,185.68 L294.02,185.68 L295.60,185.69 L297.18,185.70 L298.76,185.72 L300.34,185.74 L301.91,185.78 L303.49,185.82 L305.07,185.88 L306.65,185.94 L308.23,186.02 L309.81,186.12 L311.38,186.22 L312.96,186.34 L314.54,186.48 L316.12,186.63 L317.70,186.80 L319.28,186.99 L320.85,187.19 L322.43,187.41 L324.01,187.65 L325.59,187.91 L327.17,188.19 L328.75,188.49 L330.32,188.81 L331.90,189.15 L333.48,189.51 L335.06,189.89 L336.64,190.30 L338.22,190.72 L339.79,191.17 L341.37,191.64 L342.95,192.14 L344.53,192.65 L346.11,193.20 L347.69,193.76 L349.26,194.35 L350.84,194.96 L352.42,195.60 L354.00,196.26 L355.58,196.94 L357.16,197.65 L358.73,198.38 L360.31,199.14 L361.89,199.92 L363.47,200.73 L365.05,201.56 L366.63,202.42 L368.20,203.30 L369.78,204.20 L371.36,205.13 L372.94,206.08 L374.52,207.04 L376.09,208.00 L377.67,208.99 L379.25,209.98 L380.83,210.99 L382.41,212.02 L383.99,213.07 L385.56,214.13 L387.14,215.22 L388.72,216.33 L390.30,217.46 L391.88,218.61 L393.46,219.79 L395.03,221.00 L396.61,222.23 L398.19,223.49 L399.77,224.78 L401.35,226.10 L402.93,227.45 L404.50,228.88 L406.08,230.43 L407.66,232.09 L409.24,233.84 L410.82,235.66 L412.40,237.54 L413.97,239.47 L415.55,241.43 L417.13,243.42 L418.71,245.40 L420.29,247.38 L421.87,249.33 L423.44,251.25 L425.02,253.10 L426.60,254.90 L428.18,256.60 L429.76,258.21 L431.34,259.76 L432.91,261.30 L434.49,262.81 L436.07,264.32 L437.65,265.81 L439.23,267.29 L440.81,268.76 L442.38,270.22 L443.96,271.67 L445.54,273.11 L447.12,274.55 L448.70,275.98 L450.28,277.40 L451.85,278.81 L453.43,280.17 L455.01,281.51 L456.59,282.82 L458.17,284.11 L459.74,285.38 L461.32,286.64 L462.90,287.90 L464.48,289.15 L466.06,290.41 L467.64,291.68 L469.21,292.97 L470.79,294.25 L472.37,295.52 L473.95,296.76 L475.53,297.99 L477.11,299.19 L478.68,300.38 L480.26,301.54 L481.84,302.69 L483.42,303.82 L485.00,304.93 L486.58,306.01 L488.15,307.12 L489.73,308.26 L491.31,309.42 L492.89,310.59 L494.47,311.73 L496.05,312.85 L497.62,313.90 L499.20,314.88 L500.78,315.77 L502.36,316.55 L503.94,317.18 L505.52,317.66 L507.09,318.03 L508.67,318.32 L510.25,318.56 L511.83,318.79 L513.41,319.04 L514.99,319.30 L516.56,319.51 L518.14,319.67 L519.72,319.80 L521.30,319.89 L522.88,319.95 L524.46,319.97 L526.03,319.97 L527.61,319.96 L529.19,319.96 L530.77,319.96 L532.35,319.96 L533.92,319.96" stroke="#D95319" stroke-width="7.2"/>
<path d="M62.00,317.50 L63.00,317.43 L64.00,317.30 L65.00,317.10 L66.00,316.78 L67.00,316.39 L68.00,315.93 L69.00,315.43 L70.00,314.90 L71.00,314.38 L72.00,313.89 L73.00,313.44 L74.00,313.03 L75.00,312.63 L76.00,312.24 L77.00,311.85 L78.00,311.46 L79.00,311.07 L80.00,310.68 L81.00,310.28 L82.00,309.88 L83.00,309.48 L84.00,309.08 L85.00,308.66 L86.00,308.20 L87.00,307.68 L88.00,307.10 L89.00,306.50 L90.00,305.92 L91.00,305.40 L92.00,304.95 L93.00,304.53 L94.00,304.14 L95.00,303.74 L96.00,303.33 L97.00,302.89 L98.00,302.44 L99.00,301.97 L100.00,301.50" stroke="#D95319" stroke-width="7.2"/>
<path d="M49.39,314.86 L50.97,314.92 L52.54,314.99 L54.12,315.08 L55.70,315.18 L57.28,315.45 L58.86,315.94 L60.43,316.25 L62.01,316.44 L63.59,316.57 L65.17,316.59 L66.75,316.44 L68.33,316.11 L69.90,315.64 L71.48,315.07 L73.06,314.46 L74.64,313.82 L76.22,313.22 L77.80,312.59 L79.37,311.89 L80.95,311.14 L82.53,310.34 L84.11,309.49 L85.69,308.61 L87.27,307.71 L88.84,306.78 L90.42,305.84 L92.00,304.89 L93.58,303.91 L95.16,302.88 L96.74,301.82 L98.31,300.73 L99.89,299.60 L101.47,298.45 L103.05,297.27 L104.63,296.15 L106.21,295.13 L107.78,294.03 L109.36,292.84 L110.94,291.59 L112.52,290.27 L114.10,288.89 L115.68,287.45 L117.25,286.02 L118.83,284.62 L120.41,283.24 L121.99,281.90 L123.57,280.58 L125.15,279.27 L126.72,277.92 L128.30,276.54 L129.88,275.08 L131.46,273.53 L133.04,271.93 L134.62,270.31 L136.19,268.68 L137.77,267.01 L139.35,265.29 L140.93,263.52 L142.51,261.71 L144.08,259.89 L145.66,258.04 L147.24,256.19 L148.82,254.33 L150.40,252.46 L151.98,250.59 L153.55,248.71 L155.13,246.84 L156.71,244.89 L158.29,242.83 L159.87,240.72 L161.45,238.59 L163.02,236.50 L164.60,234.49 L166.18,232.61 L167.76,230.83 L169.34,229.08 L170.92,227.35 L172.49,225.65 L174.07,223.97 L175.65,222.31 L177.23,220.68 L178.81,219.07 L180.39,217.48 L181.96,215.91 L183.54,214.36 L185.12,212.84 L186.70,211.33 L188.28,209.85 L189.86,208.40 L191.43,206.97 L193.01,205.56 L194.59,204.18 L196.17,202.83 L197.75,201.51 L199.33,200.21 L200.90,198.94 L202.48,197.70 L204.06,196.49 L205.64,195.32 L207.22,194.17 L208.80,193.05 L210.37,191.96 L211.95,190.91 L213.53,189.88 L215.11,188.89 L216.69,187.92 L218.26,186.99 L219.84,186.08 L221.42,185.20 L223.00,184.35 L224.58,183.52 L226.16,182.73 L227.73,181.96 L229.31,181.22 L230.89,180.51 L232.47,179.82 L234.05,179.16 L235.63,178.53 L237.20,177.93 L238.78,177.35 L240.36,176.80 L241.94,176.27 L243.52,175.77 L245.10,175.29 L246.67,174.84 L248.25,174.41 L249.83,174.01 L251.41,173.63 L252.99,173.27 L254.57,172.94 L256.14,172.62 L257.72,172.33 L259.30,172.06 L260.88,171.81 L262.46,171.58 L264.04,171.37 L265.61,171.17 L267.19,171.00 L268.77,170.84 L270.35,170.69 L271.93,170.57 L273.51,170.46 L275.08,170.36 L276.66,170.28 L278.24,170.20 L279.82,170.14 L281.40,170.10 L282.98,170.06 L284.55,170.03 L286.13,170.01 L287.71,169.99 L289.29,169.99 L290.87,169.98 L292.45,169.98 L294.02,169.98 L295.60,169.98 L297.18,169.99 L298.76,170.00 L300.34,170.02 L301.91,170.05 L303.49,170.08 L305.07,170.12 L306.65,170.17 L308.23,170.23 L309.81,170.31 L311.38,170.39 L312.96,170.49 L314.54,170.60 L316.12,170.73 L317.70,170.87 L319.28,171.03 L320.85,171.20 L322.43,171.39 L324.01,171.60 L325.59,171.82 L327.17,172.07 L328.75,172.33 L330.32,172.62 L331.90,172.92 L333.48,173.25 L335.06,173.59 L336.64,173.96 L338.22,174.35 L339.79,174.77 L341.37,175.21 L342.95,175.67 L344.53,176.15 L346.11,176.66 L347.69,177.20 L349.26,177.76 L350.84,178.34 L352.42,178.95 L354.00,179.59 L355.58,180.25 L357.16,180.94 L358.73,181.66 L360.31,182.41 L361.89,183.18 L363.47,183.98 L365.05,184.80 L366.63,185.66 L368.20,186.54 L369.78,187.45 L371.36,188.38 L372.94,189.35 L374.52,190.34 L376.09,191.36 L377.67,192.41 L379.25,193.48 L380.83,194.59 L382.41,195.72 L383.99,196.87 L385.56,198.06 L387.14,199.27 L388.72,200.51 L390.30,201.77 L391.88,203.06 L393.46,204.38 L395.03,205.72 L396.61,207.09 L398.19,208.48 L399.77,209.89 L401.35,211.33 L402.93,212.79 L404.50,214.30 L406.08,215.88 L407.66,217.53 L409.24,219.24 L410.82,221.00 L412.40,222.80 L413.97,224.65 L415.55,226.53 L417.13,228.43 L418.71,230.36 L420.29,232.30 L421.87,234.24 L423.44,236.19 L425.02,238.13 L426.60,240.06 L428.18,242.01 L429.76,243.98 L431.34,245.98 L432.91,247.97 L434.49,249.95 L436.07,251.90 L437.65,253.80 L439.23,255.63 L440.81,257.42 L442.38,259.20 L443.96,260.98 L445.54,262.74 L447.12,264.50 L448.70,266.26 L450.28,268.00 L451.85,269.73 L453.43,271.41 L455.01,273.05 L456.59,274.67 L458.17,276.26 L459.74,277.83 L461.32,279.38 L462.90,280.91 L464.48,282.44 L466.06,283.97 L467.64,285.49 L469.21,287.02 L470.79,288.48 L472.37,289.87 L473.95,291.26 L475.53,292.65 L477.11,294.04 L478.68,295.44 L480.26,296.84 L481.84,298.25 L483.42,299.66 L485.00,301.08 L486.58,302.53 L488.15,304.06 L489.73,305.63 L491.31,307.15 L492.89,308.56 L494.47,309.84 L496.05,310.93 L497.62,311.95 L499.20,312.97 L500.78,313.90 L502.36,314.65 L503.94,315.15 L505.52,315.33 L507.09,315.41 L508.67,315.48 L510.25,315.53 L511.83,315.57 L513.41,315.59 L514.99,315.60 L516.56,315.60 L518.14,315.60 L519.72,315.60 L521.30,315.60 L522.88,315.60 L524.46,315.60 L526.03,315.60 L527.61,315.60 L529.19,315.60 L530.77,315.60 L532.35,315.60 L533.92,315.60" stroke="#EDB120" stroke-width="7.2"/>
<path d="M49.39,317.76 L50.97,317.82 L52.54,317.89 L54.12,317.98 L55.70,318.08 L57.28,318.35 L58.86,318.84 L60.43,319.12 L62.01,318.81 L63.59,318.29 L65.17,318.10 L66.75,317.97 L68.33,317.70 L69.90,317.31 L71.48,316.83 L73.06,316.29 L74.64,315.71 L76.22,315.12 L77.80,314.47 L79.37,313.73 L80.95,312.91 L82.53,312.03 L84.11,311.11 L85.69,310.16 L87.27,309.18 L88.84,308.21 L90.42,307.25 L92.00,306.30 L93.58,305.31 L95.16,304.30 L96.74,303.25 L98.31,302.17 L99.89,301.07 L101.47,299.93 L103.05,298.76 L104.63,297.65 L106.21,296.63 L107.78,295.53 L109.36,294.34 L110.94,293.09 L112.52,291.77 L114.10,290.39 L115.68,288.95 L117.25,287.52 L118.83,286.12 L120.41,284.74 L121.99,283.40 L123.57,282.08 L125.15,280.77 L126.72,279.43 L128.30,278.06 L129.88,276.64 L131.46,275.15 L133.04,273.62 L134.62,272.08 L136.19,270.53 L137.77,268.94 L139.35,267.32 L140.93,265.63 L142.51,263.90 L144.08,262.15 L145.66,260.37 L147.24,258.56 L148.82,256.72 L150.40,254.86 L151.98,252.99 L153.55,251.11 L155.13,249.24 L156.71,247.29 L158.29,245.23 L159.87,243.12 L161.45,240.99 L163.02,238.90 L164.60,236.89 L166.18,235.01 L167.76,233.21 L169.34,231.40 L170.92,229.58 L172.49,227.77 L174.07,225.96 L175.65,224.16 L177.23,222.38 L178.81,220.61 L180.39,218.87 L181.96,217.16 L183.54,215.47 L185.12,213.83 L186.70,212.22 L188.28,210.63 L189.86,209.06 L191.43,207.53 L193.01,206.02 L194.59,204.53 L196.17,203.08 L197.75,201.65 L199.33,200.25" stroke="#EDB120" stroke-width="7.2"/>
<path d="M480.26,296.85 L481.84,298.36 L483.42,299.91 L485.00,301.50 L486.58,303.16 L488.15,304.92 L489.73,306.75 L491.31,308.53 L492.89,310.26 L494.47,312.02 L496.05,313.67 L497.62,315.19 L499.20,316.52 L500.78,317.50 L502.36,318.25 L503.94,318.75 L505.52,318.93 L507.09,319.01 L508.67,319.08 L510.25,319.13 L511.83,319.17 L513.41,319.19 L514.99,319.20 L516.56,319.20 L518.14,319.20 L519.72,319.20 L521.30,319.20 L522.88,319.20 L524.46,319.20 L526.03,319.20 L527.61,319.20 L529.19,319.20 L530.77,319.20 L532.35,319.20 L533.92,319.20" stroke="#EDB120" stroke-width="7.2"/>
</g>
<path d="M529.5,10 V403.5 H56" stroke="#7a7a7a" stroke-width="1" fill="none"/>
<path d="M56,403.5 V10 H529.5" stroke="#383838" stroke-width="2" fill="none"/>
<path d="M134.6,403 v-5 M134.6,11 v5 M213.5,403 v-5 M213.5,11 v5 M292.4,403 v-5 M292.4,11 v5 M371.4,403 v-5 M371.4,11 v5 M450.3,403 v-5 M450.3,11 v5 M57,88.5 h5 M529,88.5 h-5 M57,167.2 h5 M529,167.2 h-5 M57,246.0 h5 M529,246.0 h-5 M57,324.7 h5 M529,324.7 h-5" stroke="#2b2b2b" stroke-width="1.2" fill="none"/>
<text x="28.8" y="11.4" font-size="14">20</text>
<text x="28.4" y="90.3" font-size="14">15</text>
<text x="28.2" y="168.9" font-size="14">10</text>
<text x="37.2" y="247.0" font-size="14">5</text>
<text x="37.8" y="325.8" font-size="14">0</text>
<text x="32.2" y="402.8" font-size="14">-5</text>
<text x="43.4" y="423.2" font-size="14">-15</text>
<text x="121.0" y="423.2" font-size="14">-10</text>
<text x="205.8" y="423.2" font-size="14">-5</text>
<text x="287.8" y="423.2" font-size="14">0</text>
<text x="366.1" y="423.2" font-size="14">5</text>
<text x="440.1" y="423.2" font-size="14">10</text>
<text x="518.9" y="423.2" font-size="14">15</text>
<text transform="translate(164.3,449.8) scale(0.974,1)" font-size="15.8">Cross-sectional length (mm)</text>
<text transform="translate(13.5,263) rotate(-90) scale(0.974,1)" font-size="15.8">Height (mm)</text>
<text transform="translate(77,101.5) scale(0.969,1)" font-size="15.8">Thinning of dome</text>
<text transform="translate(248,372.8) scale(0.969,1)" font-size="15.8">Increasing IE</text>
<path d="M292.9,352.2 V116" stroke="#000" stroke-width="2.4"/>
<path d="M293.2,106.2 L287.2,117.7 L298.9,117.7 Z" fill="#000"/>
<path d="M165.8,112.1 L189.4,189.1" stroke="#000" stroke-width="2.3"/>
<path d="M192.5,199.4 L184.2,190.8 L194.6,187.5 Z" fill="#000"/>
<rect x="557.5" y="91.5" width="126.9" height="229.3" fill="#fff" stroke="#333" stroke-width="1"/>
<path d="M563,105.50 H604" stroke="#0072BD" stroke-width="1.2"/>
<text x="608" y="106.60" font-size="12.4">IE 1 mm</text>
<path d="M563,128.05 H604" stroke="#D95319" stroke-width="1.2"/>
<text x="608" y="129.15" font-size="12.4">IE 2 mm</text>
<path d="M563,150.60 H604" stroke="#EDB120" stroke-width="1.2"/>
<text x="608" y="151.70" font-size="12.4">IE 3 mm</text>
<path d="M563,173.15 H604" stroke="#7E2F8E" stroke-width="1.2"/>
<text x="608" y="174.25" font-size="12.4">IE 4 mm</text>
<path d="M563,195.70 H604" stroke="#77AC30" stroke-width="1.2"/>
<text x="608" y="196.80" font-size="12.4">IE 5 mm</text>
<path d="M563,218.25 H604" stroke="#4DBEEE" stroke-width="1.2"/>
<text x="608" y="219.35" font-size="12.4">IE 6 mm</text>
<path d="M563,240.80 H604" stroke="#A2142F" stroke-width="1.2"/>
<text x="608" y="241.90" font-size="12.4">IE 7 mm</text>
<path d="M563,263.35 H604" stroke="#0072BD" stroke-width="1.2"/>
<text x="608" y="264.45" font-size="12.4">IE 8 mm</text>
<path d="M563,285.90 H604" stroke="#D95319" stroke-width="1.2"/>
<text x="608" y="287.00" font-size="12.4">IE 9 mm</text>
<path d="M563,308.45 H604" stroke="#EDB120" stroke-width="1.2"/>
<text x="608" y="309.55" font-size="12.4">IE 10 mm</text>
</svg></body></html>
